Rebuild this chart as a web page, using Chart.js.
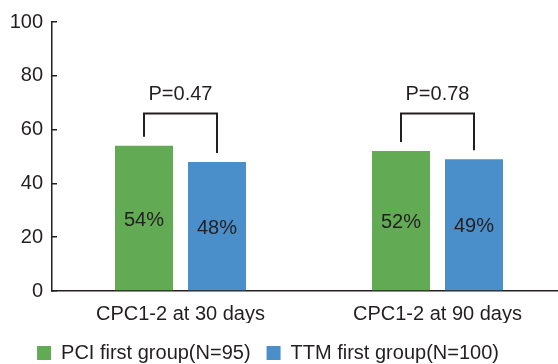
<!DOCTYPE html>
<html>
<head>
<meta charset="utf-8">
<script src="https://cdn.jsdelivr.net/npm/chart.js@4"></script>
<style>
  html, body { margin: 0; padding: 0; background: #fff; overflow: hidden; }
  #wrap { width: 558px; height: 364px; overflow: hidden; }
</style>
</head>
<body>
<div id="wrap"><canvas id="chart" width="572" height="364"></canvas></div>
<script>
// chart data
const categories = ['CPC1-2 at 30 days', 'CPC1-2 at 90 days'];
const seriesNames = ['PCI first group(N=95)', 'TTM first group(N=100)'];
const pciFirst = [54, 52];
const ttmFirst = [48, 49];
const pValues = ['P=0.47', 'P=0.78'];
const yTicks = [0, 20, 40, 60, 80, 100];

const green = '#62aa54';
const blue = '#4b8fca';
const ink = '#231f20';
const font = { family: '"Liberation Sans", Arial, Helvetica, sans-serif', size: 20 };

Chart.defaults.font.family = font.family;
Chart.defaults.color = ink;

// percentage label in the middle of each bar
const barLabels = {
    id: 'barLabels',
    afterDatasetsDraw(chart) {
        const ctx = chart.ctx;
        ctx.save();
        ctx.font = '20px ' + font.family;
        ctx.fillStyle = ink;
        ctx.textAlign = 'center';
        ctx.textBaseline = 'middle';
        chart.data.datasets.forEach((ds, di) => {
            chart.getDatasetMeta(di).data.forEach((bar, i) => {
                ctx.fillText(ds.data[i] + '%', bar.x, (bar.y + bar.base) / 2 + 2);
            });
        });
        ctx.restore();
    }
};

// bracket + p value above each pair of bars
const brackets = {
    id: 'brackets',
    afterDatasetsDraw(chart) {
        const ctx = chart.ctx;
        const y = chart.scales.y;
        const a = chart.getDatasetMeta(0).data;
        const b = chart.getDatasetMeta(1).data;
        ctx.save();
        ctx.strokeStyle = ink;
        ctx.lineWidth = 2;
        ctx.font = '20px ' + font.family;
        ctx.fillStyle = ink;
        ctx.textAlign = 'center';
        ctx.textBaseline = 'middle';
        categories.forEach((c, i) => {
            const top = y.getPixelForValue(66);
            ctx.beginPath();
            ctx.moveTo(a[i].x, a[i].y - 9);
            ctx.lineTo(a[i].x, top);
            ctx.lineTo(b[i].x, top);
            ctx.lineTo(b[i].x, b[i].y - 9);
            ctx.stroke();
            ctx.fillText(pValues[i], (a[i].x + b[i].x) / 2, y.getPixelForValue(73));
        });
        ctx.restore();
    }
};

// the picture is cropped on the right, so pull the legend back to the visible centre
const legendShift = {
    id: 'legendShift',
    afterLayout(chart) {
        const lg = chart.legend;
        lg.left -= 20;
        lg.right -= 20;
        const dy = 373 - lg.bottom;
        lg.top += dy;
        lg.bottom += dy;
    }
};

new Chart(document.getElementById('chart'), {
    type: 'bar',
    data: {
        labels: categories,
        datasets: [
            { label: seriesNames[0], data: pciFirst, backgroundColor: green, borderWidth: 0 },
            { label: seriesNames[1], data: ttmFirst, backgroundColor: blue, borderWidth: 0 }
        ]
    },
    options: {
        responsive: false,
        animation: false,
        categoryPercentage: 0.568,
        barPercentage: 0.795,
        layout: { padding: { top: 22, left: 10, right: 6, bottom: -5 } },
        plugins: {
            tooltip: { enabled: false },
            legend: {
                position: 'bottom',
                labels: {
                    boxWidth: 14, boxHeight: 14, padding: 16,
                    font: { size: 20 }, color: ink
                }
            }
        },
        scales: {
            x: {
                grid: { display: false },
                border: { display: true, color: ink, width: 1.5 },
                ticks: { font: { size: 20 }, color: ink, padding: 3 },
                afterFit: (axis) => { axis.height = 32; }
            },
            y: {
                min: 0, max: 100,
                afterBuildTicks: (axis) => { axis.ticks = yTicks.map(v => ({ value: v })); },
                afterFit: (axis) => { axis.width = 42; axis.paddingTop = 0; axis.paddingBottom = 0; },
                grid: { drawOnChartArea: false, tickLength: -5, color: ink, lineWidth: 1.5 },
                border: { display: true, color: ink, width: 1.5 },
                ticks: { font: { size: 20 }, color: ink, padding: 14 }
            }
        }
    },
    plugins: [barLabels, brackets, legendShift]
});
</script>
</body>
</html>
